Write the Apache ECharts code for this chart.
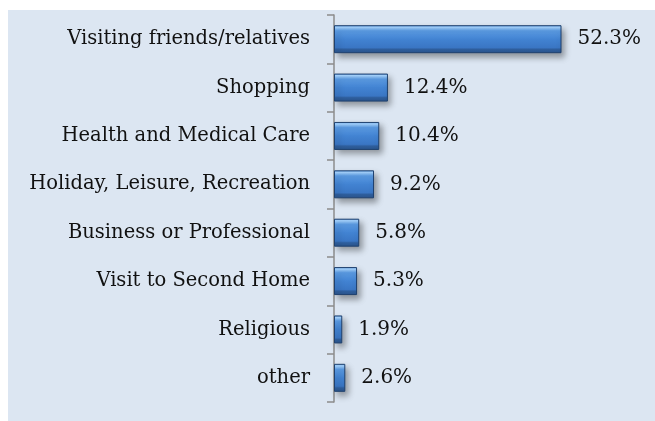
<!DOCTYPE html>
<html>
<head>
<meta charset="utf-8">
<script src="https://cdn.jsdelivr.net/npm/echarts@6/dist/echarts.min.js"></script>
<style>
  html, body { margin: 0; padding: 0; background: #fff; }
  #chartId { width: 655px; height: 421px; }
</style>
</head>
<body>
<div id="chartId"></div>
<script>
// 数据
var categories = [
  "Visiting friends/relatives",
  "Shopping",
  "Health and Medical Care",
  "Holiday, Leisure, Recreation",
  "Business or Professional",
  "Visit to Second Home",
  "Religious",
  "other"
];
var shares = [52.3, 12.4, 10.4, 9.2, 5.8, 5.3, 1.9, 2.6];

var serifFont = "'DejaVu Serif', 'Liberation Serif', serif";

// 柱子渐变（模拟立体斜面效果）
var barGradient = new echarts.graphic.LinearGradient(0, 0, 0, 1, [
  { offset: 0, color: "#5a9be6" },
  { offset: 0.07, color: "#a6d4ff" },
  { offset: 0.2, color: "#5c9de6" },
  { offset: 0.5, color: "#4283d2" },
  { offset: 0.8, color: "#3a76c4" },
  { offset: 0.86, color: "#2f5f9e" },
  { offset: 1, color: "#2a548c" }
]);

var chart = echarts.init(document.getElementById("chartId"));

chart.setOption({
  backgroundColor: "#ffffff",
  animation: false,
  graphic: [{
    type: "rect",
    z: -10,
    silent: true,
    shape: { x: 8, y: 10, width: 647, height: 411 },
    style: { fill: "#dce6f2" }
  }],
  grid: { left: 334, top: 15, bottom: 19, right: 16.5 },
  xAxis: {
    type: "value",
    min: 0,
    max: 70,
    show: false
  },
  yAxis: {
    type: "category",
    inverse: true,
    data: categories,
    axisLine: { show: true, lineStyle: { color: "#8c8c8c", width: 1.5 } },
    axisTick: { show: true, length: 7, lineStyle: { color: "#8c8c8c", width: 1.5 } },
    axisLabel: {
      margin: 24,
      color: "#111",
      fontFamily: serifFont,
      fontSize: 19.5
    },
    splitLine: { show: false }
  },
  series: [{
    type: "bar",
    data: shares,
    barWidth: 28,
    itemStyle: {
      color: barGradient,
      borderColor: "#1f416e",
      borderWidth: 1,
      shadowColor: "rgba(0,0,0,0.35)",
      shadowBlur: 6,
      shadowOffsetX: 3,
      shadowOffsetY: 4
    },
    label: {
      show: true,
      position: "right",
      distance: 16,
      color: "#111",
      fontFamily: serifFont,
      fontSize: 20,
      formatter: function (p) { return p.value.toFixed(1) + "%"; }
    }
  }]
});
</script>
</body>
</html>
